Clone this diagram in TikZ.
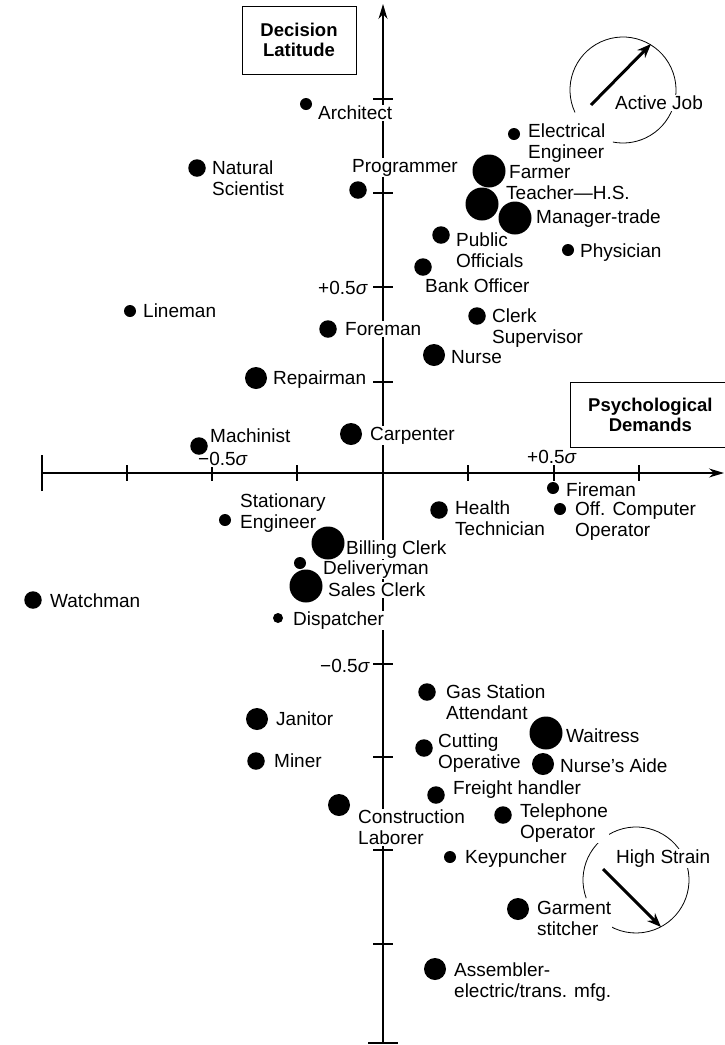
\documentclass[tikz,border=0pt]{standalone}
\usepackage{fontspec}
\setmainfont{Liberation Sans}
\usetikzlibrary{arrows.meta}
\tikzset{
  lab/.style={anchor=base west, inner sep=1pt, fill=white, align=left, font=\fontsize{19}{21}\selectfont},
  labE/.style={lab, anchor=base east},
  labC/.style={lab, anchor=base},
  axisline/.style={line width=1.2pt},
  tickline/.style={line width=1.1pt},
  dotS/.style={circle, fill=black, inner sep=0pt, minimum size=12pt},
  dotM/.style={circle, fill=black, inner sep=0pt, minimum size=17.5pt},
  dotL/.style={circle, fill=black, inner sep=0pt, minimum size=22pt},
  dotXL/.style={circle, fill=black, inner sep=0pt, minimum size=33pt},
  titlebox/.style={draw, line width=0.8pt, align=center, inner sep=0pt, font=\bfseries\fontsize{18.5}{20}\selectfont},
  ring/.style={line width=0.8pt},
  bigarrow/.style={line width=3pt, -{Stealth[length=14pt,width=11pt]}}
}
\begin{document}
\begin{tikzpicture}[x=1pt,y=-1pt]
\useasboundingbox (0,0) rectangle (725,1045);
% axes
\coordinate (xL) at (42,473);
\coordinate (xR) at (724,473);
\coordinate (yT) at (383,4);
\coordinate (yB) at (383,1043);
\draw[axisline, -{Stealth[length=15pt,width=9pt]}] (xL) -- (xR);
\draw[axisline, -{Stealth[length=15pt,width=9pt]}] (yB) -- (yT);
\draw[tickline] ([yshift=-18pt]xL) -- ([yshift=18pt]xL);
\draw[tickline] ([xshift=-15pt]yB) -- ([xshift=15pt]yB);
\foreach \tx in {127,212,297,468,554,639} \draw[tickline] (\tx,465) -- (\tx,481);
\foreach \ty in {99,193,287,382,568,664,757,850,944} \draw[tickline] (373,\ty) -- (393,\ty);

% axis titles
\node[titlebox, minimum width=114pt, minimum height=68pt] (dl) at (299,40) {Decision\\Latitude};
\node[titlebox, minimum width=160pt, minimum height=65pt, anchor=west] (pd) at (570,414.5) {Psychological\\Demands};

% sigma labels
\node[labE] (vp) at (369,294.5) {+0.5\textit{σ}};
\node[labE] (vm) at (371,672.5) {−0.5\textit{σ}};
\node[labC] (hm) at (223,465.5) {−0.5\textit{σ}};
\node[labC] (hp) at (552,463.5) {+0.5\textit{σ}};

% Active Job / High Strain
\coordinate (ajc) at (623,90);
\draw[ring] (ajc) ++(155:53) arc[start angle=155, end angle=461, radius=53];
\coordinate (aj1) at (591,105);
\coordinate (aj2) at (651,44);
\draw[bigarrow] (aj1) -- (aj2);
\node[lab] (ajl) at (614,109.5) {Active Job};
\coordinate (hsc) at (636,880);
\draw[ring] (hsc) ++(160:53) arc[start angle=160, end angle=480, radius=53];
\coordinate (hs1) at (603,869);
\coordinate (hs2) at (661,927);
\draw[bigarrow] (hs1) -- (hs2);
\node[lab] (hsl) at (615,863.5) {High Strain};

% labels (base = baseline of last line)
\node[lab] (lArch) at (317,119.5) {Architect};
\node[lab] (lNat) at (211,195.5) {Natural\\Scientist};
\node[lab] (lProg) at (351,172) {Programmer};
\node[lab] (lElec) at (527,158.5) {Electrical\\Engineer};
\node[lab] (lFarm) at (508,178.5) {Farmer};
\node[lab] (lTeach) at (505,199.5) {Teacher—H.S.};
\node[lab] (lMan) at (535,223.5) {Manager-trade};
\node[lab] (lPub) at (455,267.5) {Public\\Officials};
\node[lab] (lPhys) at (579,257.5) {Physician};
\node[lab] (lBank) at (424,292.5) {Bank Officer};
\node[lab] (lLine) at (142,317.5) {Lineman};
\node[lab] (lFore) at (344,335.5) {Foreman};
\node[lab] (lClerkS) at (491,343.5) {Clerk\\Supervisor};
\node[lab] (lNurse) at (450,363.5) {Nurse};
\node[lab] (lRep) at (272,384.5) {Repairman};
\node[lab] (lCarp) at (369,440.5) {Carpenter};
\node[lab] (lMach) at (209,442.5) {Machinist};
\node[lab] (lFire) at (565,496.5) {Fireman};
\node[lab] (lStat) at (239,528) {Stationary\\Engineer};
\node[lab] (lHealth) at (454,535.5) {Health\\Technician};
\node[lab] (lOff) at (574,536.5) {Off. Computer\\Operator};
\node[lab] (lBill) at (345,554.5) {Billing Clerk};
\node[lab] (lDel) at (322,574.5) {Deliveryman};
\node[lab] (lSales) at (327,596.5) {Sales Clerk};
\node[lab] (lDisp) at (292,625.5) {Dispatcher};
\node[lab] (lWatch) at (49,607.5) {Watchman};
\node[lab] (lJan) at (275,725.5) {Janitor};
\node[lab] (lMin) at (273,767.5) {Miner};
\node[lab] (lGas) at (445,719.5) {Gas Station\\Attendant};
\node[lab] (lWait) at (565,742.5) {Waitress};
\node[lab] (lCut) at (437,768.5) {Cutting\\Operative};
\node[lab] (lNA) at (559,772.5) {Nurse's Aide};
\node[lab] (lFr) at (452,794) {Freight handler};
\node[lab] (lCon) at (357,844.5) {Construction\\Laborer};
\node[lab] (lTel) at (519,838.5) {Telephone\\Operator};
\node[lab] (lKey) at (464,863.5) {Keypuncher};
\node[lab] (lGar) at (536,935.5) {Garment\\stitcher};
\node[lab] (lAss) at (453,997.5) {Assembler-\\electric/trans. mfg.};

% dots
\node[dotS] (dArch) at (306,104) {};
\node[dotM] (dNat) at (197,168) {};
\node[dotM] (dProg) at (358,190) {};
\node[dotS] (dElec) at (514,134) {};
\node[dotXL] (dFarm) at (489,171) {};
\node[dotXL] (dTeach) at (482,204) {};
\node[dotXL] (dMan) at (515,218) {};
\node[dotM] (dPub) at (441,235) {};
\node[dotS] (dPhys) at (568,250) {};
\node[dotM] (dBank) at (423,267) {};
\node[dotS] (dLine) at (130,311) {};
\node[dotM] (dFore) at (328,329) {};
\node[dotM] (dClerkS) at (477,316) {};
\node[dotL] (dNurse) at (434,355) {};
\node[dotL] (dRep) at (256,378) {};
\node[dotL] (dCarp) at (351,434) {};
\node[dotM] (dMach) at (199,446) {};
\node[dotS] (dFire) at (553,488) {};
\node[dotS] (dStat) at (225,520) {};
\node[dotM] (dHealth) at (439,510) {};
\node[dotS] (dOff) at (560,509) {};
\node[dotXL] (dBill) at (328,543) {};
\node[dotS] (dDel) at (300,563) {};
\node[dotXL] (dSales) at (306,586) {};
\node[dotS, minimum size=10pt] (dDisp) at (278,618) {};
\node[dotM] (dWatch) at (33,600) {};
\node[dotL] (dJan) at (257,719) {};
\node[dotM] (dMin) at (256,761) {};
\node[dotM] (dGas) at (427,692) {};
\node[dotXL] (dWait) at (546,733) {};
\node[dotM] (dCut) at (424,748) {};
\node[dotL] (dNA) at (543,764) {};
\node[dotM] (dFr) at (436,795) {};
\node[dotL] (dCon) at (339,805) {};
\node[dotM] (dTel) at (503,815) {};
\node[dotS] (dKey) at (450,857) {};
\node[dotL] (dGar) at (518,909) {};
\node[dotL] (dAss) at (435,969) {};
\end{tikzpicture}
\end{document}
